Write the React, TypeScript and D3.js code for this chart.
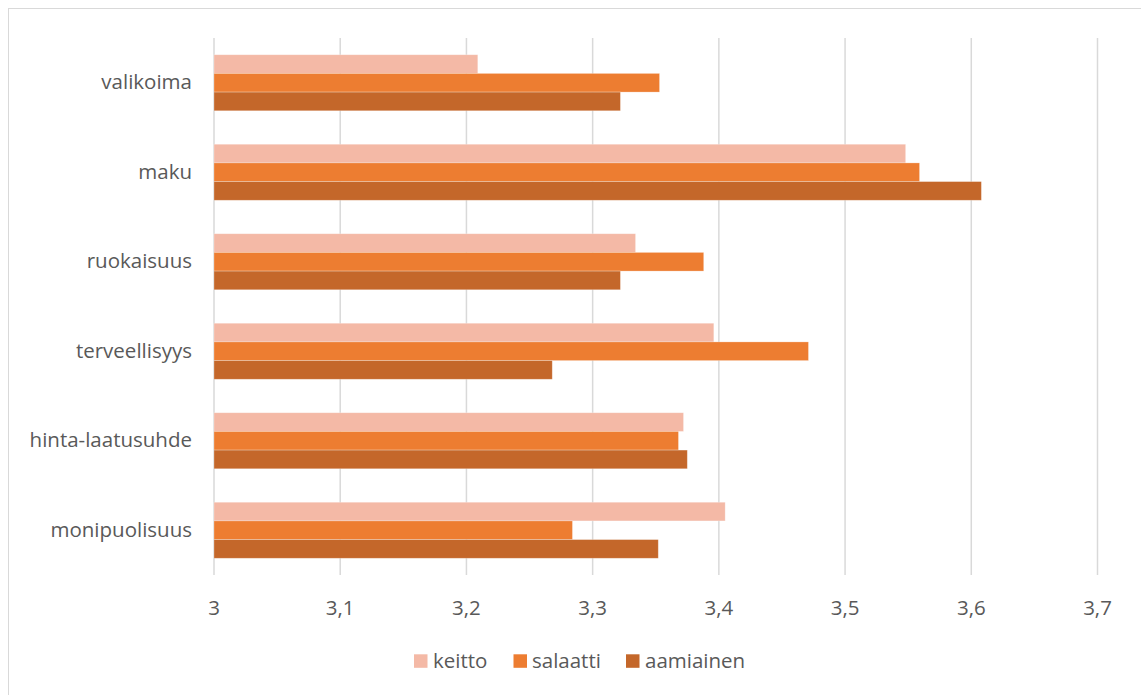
import React from "react";
import * as d3 from "d3";

const categories = ["valikoima", "maku", "ruokaisuus", "terveellisyys", "hinta-laatusuhde", "monipuolisuus"];
const seriesNames = ["keitto", "salaatti", "aamiainen"];
const keitto = [3.209, 3.548, 3.334, 3.396, 3.372, 3.405];
const salaatti = [3.353, 3.559, 3.388, 3.471, 3.368, 3.284];
const aamiainen = [3.322, 3.608, 3.322, 3.268, 3.375, 3.352];
const seriesColors = ["#F4B9A6", "#ED7D31", "#C4672A"];
const xTicks = [3, 3.1, 3.2, 3.3, 3.4, 3.5, 3.6, 3.7];

const W = 1141;
const H = 695;
const FONT = "'Open Sans', sans-serif";
const TEXT = "#595959";
const FS = 20.5;

export default function App() {
  const series = [keitto, salaatti, aamiainen];
  const x = d3.scaleLinear().domain([3, 3.7]).range([214, 1097.5]);
  const y = d3.scaleBand<string>().domain(categories).range([38, 575]).paddingInner(0.374).paddingOuter(0.187);
  const inner = d3.scaleBand<number>().domain([0, 1, 2]).range([0, y.bandwidth()]);
  const fmt = (v: number) => d3.format(".1~f")(v).replace(".", ",");

  const legendItems = [
    { sx: 414, tx: 433 },
    { sx: 513.5, tx: 532 },
    { sx: 626, tx: 645 },
  ];

  return (
    <svg width={W} height={H} style={{ position: "absolute", left: 0, top: 0 }} fontFamily={FONT}>
      <rect x={0} y={0} width={W} height={H} fill="#fff" />
      <rect x={8.5} y={8.5} width={1300} height={900} fill="#fff" stroke="#d9d9d9" strokeWidth={1} />
      {xTicks.map((t) => (
        <line key={"g" + t} x1={x(t)} x2={x(t)} y1={38} y2={575} stroke="#d9d9d9" strokeWidth={1.5} />
      ))}
      {categories.map((c, i) => (
        <g key={c}>
          {series.map((s, k) => (
            <rect
              key={k}
              x={x(3)}
              y={(y(c) as number) + (inner(k) as number)}
              width={x(s[i]) - x(3)}
              height={inner.bandwidth()}
              fill={seriesColors[k]}
              stroke="#fff"
              strokeOpacity={0.35}
              strokeWidth={0.75}
            />
          ))}
          <text
            x={192}
            y={(y(c) as number) + y.bandwidth() / 2 + 6.5}
            textAnchor="end"
            fontSize={FS}
            fill={TEXT}
          >
            {c}
          </text>
        </g>
      ))}
      {xTicks.map((t) => (
        <text key={"t" + t} x={x(t)} y={615} textAnchor="middle" fontSize={FS} fill={TEXT}>
          {fmt(t)}
        </text>
      ))}
      {seriesNames.map((n, k) => (
        <g key={n}>
          <rect x={legendItems[k].sx} y={654.3} width={13.5} height={13.5} fill={seriesColors[k]} />
          <text x={legendItems[k].tx} y={668} fontSize={FS} fill={TEXT}>
            {n}
          </text>
        </g>
      ))}
    </svg>
  );
}
